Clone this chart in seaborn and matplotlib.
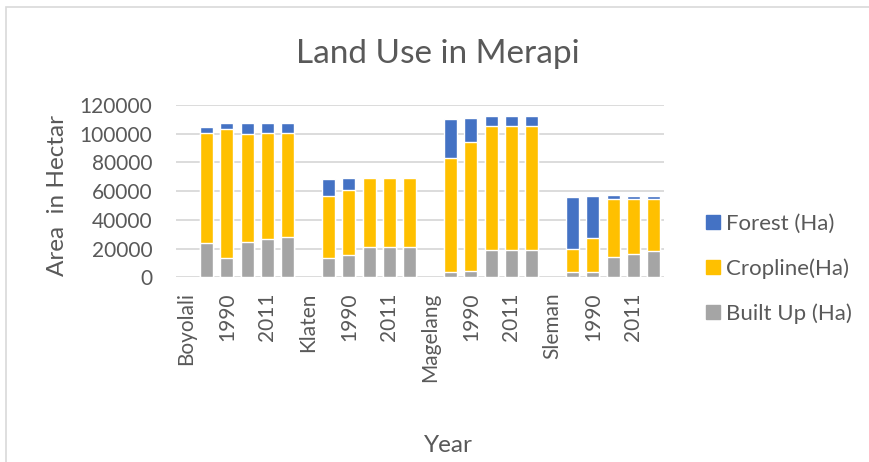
import matplotlib
matplotlib.use("Agg")
import matplotlib.pyplot as plt
import matplotlib.patches as mpatches
import numpy as np
import pandas as pd
import seaborn as sns

# ---- data ----
regions = ["Boyolali", "Klaten", "Magelang", "Sleman"]
years = ["1980", "1990", "2000", "2011", "2018"]
built_up = {
    "Boyolali": [23700, 13700, 24600, 26900, 27900],
    "Klaten":   [13700, 15700, 21300, 21100, 21400],
    "Magelang": [3900, 4400, 19000, 19000, 19100],
    "Sleman":   [3900, 3900, 14400, 16400, 18500],
}
cropline = {
    "Boyolali": [76600, 89800, 75000, 73800, 72800],
    "Klaten":   [42900, 45100, 47900, 48100, 47800],
    "Magelang": [79000, 90000, 86600, 86600, 86500],
    "Sleman":   [15800, 23700, 40400, 37900, 35800],
}
forest = {
    "Boyolali": [4200, 3700, 7900, 6800, 6800],
    "Klaten":   [12100, 8400, 700, 700, 700],
    "Magelang": [27200, 16700, 6500, 6500, 6500],
    "Sleman":   [36400, 29200, 2600, 2500, 2500],
}
series_names = ["Forest (Ha)", "Cropline(Ha)", "Built Up (Ha)"]
colors = {"Forest (Ha)": "#4472C4", "Cropline(Ha)": "#FFC000", "Built Up (Ha)": "#A5A5A5"}

# ---- build table: each region has a header category (no bar) then its years ----
rows = []
for r in regions:
    rows.append({"key": r, "label": r, "built": np.nan, "crop": np.nan, "forest": np.nan})
    for i, y in enumerate(years):
        rows.append({"key": f"{r} {y}", "label": y,
                     "built": built_up[r][i], "crop": cropline[r][i], "forest": forest[r][i]})
df = pd.DataFrame(rows)
df["lvl_built"] = df["built"]
df["lvl_crop"] = df["built"] + df["crop"]
df["lvl_total"] = df["built"] + df["crop"] + df["forest"]
order = list(df["key"])

sns.set_style("white")
plt.rcParams["font.family"] = ["Lato", "DejaVu Sans"]
txt = "#595959"

fig = plt.figure(figsize=(8.69, 4.62), dpi=100)
ax = fig.add_axes([176 / 869, 1 - 277.3 / 462, (664 - 176) / 869, (277.3 - 105) / 462])

bw = 0.64
sns.barplot(data=df, x="key", y="lvl_total", order=order, color=colors["Forest (Ha)"],
            saturation=1, width=bw, errorbar=None, ax=ax, zorder=3)
sns.barplot(data=df, x="key", y="lvl_crop", order=order, color=colors["Cropline(Ha)"],
            saturation=1, width=bw, errorbar=None, ax=ax, zorder=4)
sns.barplot(data=df, x="key", y="lvl_built", order=order, color=colors["Built Up (Ha)"],
            saturation=1, width=bw, errorbar=None, ax=ax, zorder=5)

ax.set_xlim(-0.5, len(order) - 0.5)
ax.set_ylim(0, 120000)
ax.set_yticks(np.arange(0, 120001, 20000))
ax.set_yticklabels([str(v) for v in range(0, 120001, 20000)], color=txt, fontsize=15)
labels = list(df["label"])
ax.set_xticks(range(len(order)))
ax.set_xticklabels([lab if i % 2 == 0 else "" for i, lab in enumerate(labels)],
                   rotation=90, color=txt, fontsize=15)
ax.tick_params(axis="y", length=0, pad=17)
ax.tick_params(axis="x", length=0, pad=11)
ax.yaxis.grid(True, color="#D9D9D9", linewidth=1.3, zorder=0)
ax.set_axisbelow(True)
for s in ax.spines.values():
    s.set_visible(False)
ax.set_xlabel("")
ax.set_ylabel("")

fig.text(0.504, 1 - 62.7 / 462, "Land Use in Merapi", ha="center", va="baseline",
         fontsize=24, color=txt)
fig.text(57 / 869, 1 - 195 / 462, "Area  in Hectar", rotation=90, ha="center", va="center",
         fontsize=17.5, color=txt)
fig.text(448 / 869, 1 - 451.7 / 462, "Year", ha="center", va="baseline", fontsize=17.5, color=txt)

handles = [mpatches.Patch(color=colors[n], label=n) for n in series_names]
fig.legend(handles=handles, loc="center left", bbox_to_anchor=(706 / 869, 1 - 269 / 462),
           frameon=False, fontsize=16, labelcolor=txt, handlelength=0.63, handleheight=0.63,
           handletextpad=0.26, labelspacing=1.1, borderpad=0, borderaxespad=0)

# light frame around chart
fig.patches.append(mpatches.Rectangle((6 / 869, -0.01), 1.0, 1 - 6.5 / 462 + 0.01,
                                      transform=fig.transFigure, fill=False,
                                      edgecolor="#D9D9D9", linewidth=1.2))

fig.savefig("out.png", dpi=100)
